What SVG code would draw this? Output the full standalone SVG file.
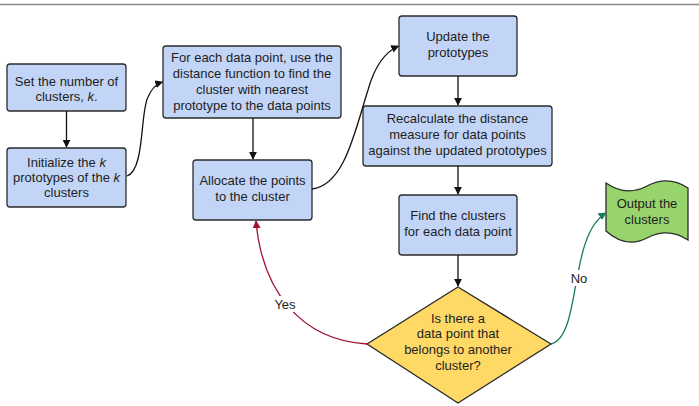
<svg xmlns="http://www.w3.org/2000/svg" width="699" height="406" viewBox="0 0 699 406">
<defs>
<style>
.box{fill:#c2d5f6;stroke:#2b2b2b;stroke-width:1.3}
.dec{fill:#ffd966;stroke:#2b2b2b;stroke-width:1.3}
.out{fill:#98d46c;stroke:#2b2b2b;stroke-width:1.3}
text{font-family:"Liberation Sans",Arial,sans-serif;font-size:13px;fill:#1e1e1e;text-anchor:middle}
.c{fill:none;stroke:#111;stroke-width:1.3}
.yes{fill:none;stroke:#a0122f;stroke-width:1.3}
.no{fill:none;stroke:#1b7a5c;stroke-width:1.3}
.lbl{fill:#fff}
</style>
<marker id="ah" viewBox="0 0 10 10" refX="9" refY="5" markerWidth="8" markerHeight="8" markerUnits="userSpaceOnUse" orient="auto"><path d="M0,0 L10,5 L0,10 z" fill="#111"/></marker>
<marker id="ahr" viewBox="0 0 10 10" refX="9" refY="5" markerWidth="8" markerHeight="8" markerUnits="userSpaceOnUse" orient="auto"><path d="M0,0 L10,5 L0,10 z" fill="#a0122f"/></marker>
<marker id="ahg" viewBox="0 0 10 10" refX="9" refY="5" markerWidth="8" markerHeight="8" markerUnits="userSpaceOnUse" orient="auto"><path d="M0,0 L10,5 L0,10 z" fill="#1b7a5c"/></marker>
</defs>
<rect width="699" height="406" fill="#fff"/>
<line x1="0" y1="4.5" x2="699" y2="4.5" stroke="#8a8a8a" stroke-width="1.5"/>

<g id="n1"><rect class="box" x="7" y="64" width="119" height="47" rx="3"/>
<text x="66.5" y="86">Set the number of</text>
<text x="66.5" y="101">clusters, <tspan font-style="italic">k</tspan>.</text></g>

<g id="n2"><rect class="box" x="7" y="148" width="119" height="59" rx="3"/>
<text x="66.5" y="167">Initialize the <tspan font-style="italic">k</tspan></text>
<text x="66.5" y="182">prototypes of the <tspan font-style="italic">k</tspan></text>
<text x="66.5" y="197">clusters</text></g>

<g id="n3"><rect class="box" x="163" y="46" width="178" height="72" rx="3"/>
<text x="252" y="62">For each data point, use the</text>
<text x="252" y="78">distance function to find the</text>
<text x="252" y="94">cluster with nearest</text>
<text x="252" y="110">prototype to the data points</text></g>

<g id="n4"><rect class="box" x="193" y="160" width="119" height="60" rx="3"/>
<text x="252.5" y="185">Allocate the points</text>
<text x="252.5" y="201">to the cluster</text></g>

<g id="n5"><rect class="box" x="399" y="16" width="118" height="60" rx="3"/>
<text x="458" y="41">Update the</text>
<text x="458" y="57">prototypes</text></g>

<g id="n6"><rect class="box" x="363" y="106" width="189" height="60" rx="3"/>
<text x="457.5" y="123">Recalculate the distance</text>
<text x="457.5" y="139">measure for data points</text>
<text x="457.5" y="155">against the updated prototypes</text></g>

<g id="n7"><rect class="box" x="399" y="195" width="118" height="60" rx="3"/>
<text x="458" y="220">Find the clusters</text>
<text x="458" y="236">for each data point</text></g>

<g id="n8"><path class="dec" d="M458,287 L551,344 L458,403 L367,344 Z"/>
<text x="458" y="323">Is there a</text>
<text x="458" y="338">data point that</text>
<text x="458" y="354">belongs to another</text>
<text x="458" y="370">cluster?</text></g>

<g id="n9"><path class="out" d="M606,183 Q626,197 647,186 Q668,175 688,188 L688,240 Q668,227 647,238 Q626,249 606,231 Z"/>
<text x="647" y="208">Output the</text>
<text x="647" y="224">clusters</text></g>

<g id="connectors">
<path class="c" d="M66.5,111 L66.5,147" marker-end="url(#ah)"/>
<path class="c" d="M127,176 C145,170 140,112 148,97 C152,88 156,84 162.5,82" marker-end="url(#ah)"/>
<path class="c" d="M253,118 L253,159" marker-end="url(#ah)"/>
<path class="c" d="M312,189 C345,185 355,130 368,90 C375,65 385,52 398.5,46" marker-end="url(#ah)"/>
<path class="c" d="M458,76 L458,105" marker-end="url(#ah)"/>
<path class="c" d="M458,166 L458,194" marker-end="url(#ah)"/>
<path class="c" d="M458,255 L458,286" marker-end="url(#ah)"/>
<path class="yes" d="M367,344 C300,340 262,290 256,221" marker-end="url(#ahr)"/>
<path class="no" d="M551,344 C582,336 568,236 606,213" marker-end="url(#ahg)"/>
<rect class="lbl" x="272" y="296" width="26" height="16"/>
<text x="285" y="309">Yes</text>
<rect class="lbl" x="569" y="270" width="20" height="16"/>
<text x="579" y="283">No</text>
</g>
</svg>
